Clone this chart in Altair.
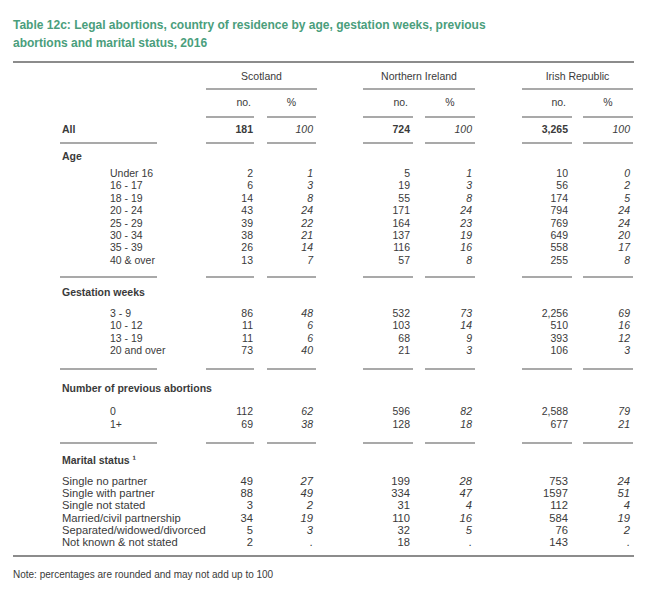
import altair as alt
import pandas as pd

# ---------------- data ----------------
title_lines = [
    "Table 12c: Legal abortions, country of residence by age, gestation weeks, previous",
    "abortions and marital status, 2016",
]
countries = ["Scotland", "Northern Ireland", "Irish Republic"]
all_no = [181, 724, 3265]
all_pct = [100, 100, 100]

age_groups = ["Under 16", "16 - 17", "18 - 19", "20 - 24", "25 - 29", "30 - 34", "35 - 39", "40 & over"]
age_no_scotland = [2, 6, 14, 43, 39, 38, 26, 13]
age_no_ni = [5, 19, 55, 171, 164, 137, 116, 57]
age_no_ir = [10, 56, 174, 794, 769, 649, 558, 255]
age_pct_scotland = [1, 3, 8, 24, 22, 21, 14, 7]
age_pct_ni = [1, 3, 8, 24, 23, 19, 16, 8]
age_pct_ir = [0, 2, 5, 24, 24, 20, 17, 8]

gest_groups = ["3 - 9", "10 - 12", "13 - 19", "20 and over"]
gest_no_scotland = [86, 11, 11, 73]
gest_no_ni = [532, 103, 68, 21]
gest_no_ir = [2256, 510, 393, 106]
gest_pct_scotland = [48, 6, 6, 40]
gest_pct_ni = [73, 14, 9, 3]
gest_pct_ir = [69, 16, 12, 3]

prev_groups = ["0", "1+"]
prev_no_scotland = [112, 69]
prev_no_ni = [596, 128]
prev_no_ir = [2588, 677]
prev_pct_scotland = [62, 38]
prev_pct_ni = [82, 18]
prev_pct_ir = [79, 21]

marital_groups = ["Single no partner", "Single with partner", "Single not stated",
                  "Married/civil partnership", "Separated/widowed/divorced", "Not known & not stated"]
mar_no_scotland = [49, 88, 3, 34, 5, 2]
mar_no_ni = [199, 334, 31, 110, 32, 18]
mar_no_ir = [753, 1597, 112, 584, 76, 143]
mar_pct_scotland = [27, 49, 2, 19, 3, None]
mar_pct_ni = [28, 47, 4, 16, 5, None]
mar_pct_ir = [24, 51, 4, 19, 2, None]

note_text = "Note: percentages are rounded and may not add up to 100"

# ---------------- layout (page pixel space) ----------------
FONT = "Liberation Sans"
TXT = "#3a3a3a"
RULE = "#8c8c8c"
GREEN = "#4a9e7c"

col_right_no = [253, 410, 568]
col_right_pct = [313, 472, 630]
grp_left = [206, 363, 522]
grp_right = [317, 475, 633]
no_rule = [(206, 254), (363, 413), (522, 572)]
pct_rule = [(267, 316), (425, 475), (583, 633)]
label_rule = (60, 157)
LBL_X = 62
SUB_X = 110

texts = []   # x, y, text, align, weight, style, size, color
rules = []   # x, x2, y, w


def fmt(v, comma=True):
    if v is None:
        return "."
    return f"{v:,}" if comma else str(v)


def add_text(x, y, t, align="left", weight="normal", style="normal", size=10.5, color=TXT):
    texts.append(dict(x=x, y=y, text=t, align=align, weight=weight, style=style, size=size, color=color))


def add_section_rule(y):
    rules.append(dict(x=label_rule[0], x2=label_rule[1], y=y, w=1.5))
    for a, b in no_rule + pct_rule:
        rules.append(dict(x=a, x2=b, y=y, w=1.5))


# title
add_text(13, 25, title_lines[0], weight="bold", size=12, color=GREEN)
add_text(13, 43, title_lines[1], weight="bold", size=12, color=GREEN)
rules.append(dict(x=13, x2=634, y=62, w=2))

# column headers
for i, c in enumerate(countries):
    add_text((grp_left[i] + grp_right[i]) / 2, 77, c, align="center")
    rules.append(dict(x=grp_left[i], x2=grp_right[i], y=89, w=1.5))
    add_text(col_right_no[i] - 2, 103, "no.", align="right")
    add_text((pct_rule[i][0] + pct_rule[i][1]) / 2, 103, "%", align="center")
    rules.append(dict(x=no_rule[i][0], x2=no_rule[i][1], y=117, w=1.5))
    rules.append(dict(x=pct_rule[i][0], x2=pct_rule[i][1], y=117, w=1.5))

# All row
add_text(LBL_X, 130, "All", weight="bold")
for i in range(3):
    add_text(col_right_no[i], 130, fmt(all_no[i]), align="right", weight="bold")
    add_text(col_right_pct[i], 130, fmt(all_pct[i]), align="right", style="italic")
add_section_rule(143)

sections = [
    ("Age", 157, 174, 12.4, age_groups,
     [age_no_scotland, age_no_ni, age_no_ir], [age_pct_scotland, age_pct_ni, age_pct_ir], 277, SUB_X, 10.5, True),
    ("Gestation weeks", 293, 314, 12.4, gest_groups,
     [gest_no_scotland, gest_no_ni, gest_no_ir], [gest_pct_scotland, gest_pct_ni, gest_pct_ir], 369, SUB_X, 10.5, True),
    ("Number of previous abortions", 389, 412, 13, prev_groups,
     [prev_no_scotland, prev_no_ni, prev_no_ir], [prev_pct_scotland, prev_pct_ni, prev_pct_ir], 443, SUB_X, 10.5, True),
    ("Marital status \u00b9", 461, 482, 12.2, marital_groups,
     [mar_no_scotland, mar_no_ni, mar_no_ir], [mar_pct_scotland, mar_pct_ni, mar_pct_ir], None, LBL_X, 11.2, False),
]

for (head, hy, ry, step, labels, nos, pcts, rule_y, lx, fs, comma) in sections:
    add_text(LBL_X, hy, head, weight="bold")
    for r, lab in enumerate(labels):
        y = ry + r * step
        add_text(lx, y, lab, size=fs)
        for i in range(3):
            add_text(col_right_no[i], y, fmt(nos[i][r], comma), align="right", size=fs)
            add_text(col_right_pct[i], y, fmt(pcts[i][r]), align="right", style="italic", size=fs)
    if rule_y is not None:
        add_section_rule(rule_y)

rules.append(dict(x=13, x2=634, y=556, w=2))
add_text(13, 575, note_text, size=10)

tdf = pd.DataFrame(texts)
rdf = pd.DataFrame(rules)

W, H = 634, 573
xs = alt.Scale(domain=[8, 8 + W])
ys = alt.Scale(domain=[8, 8 + H], reverse=True)

layers = []
for (align, weight, style), g in tdf.groupby(["align", "weight", "style"]):
    layers.append(
        alt.Chart(g).mark_text(align=align, baseline="middle", font=FONT,
                               fontWeight=weight, fontStyle=style).encode(
            x=alt.X("x:Q", scale=xs, axis=None),
            y=alt.Y("y:Q", scale=ys, axis=None),
            text="text:N",
            size=alt.Size("size:Q", scale=None, legend=None),
            color=alt.Color("color:N", scale=None, legend=None),
        )
    )

for w, g in rdf.groupby("w"):
    layers.append(
        alt.Chart(g).mark_rule(color=RULE, strokeWidth=float(w)).encode(
            x=alt.X("x:Q", scale=xs, axis=None),
            x2="x2:Q",
            y=alt.Y("y:Q", scale=ys, axis=None),
        )
    )

chart = alt.layer(*layers).properties(
    width=W, height=H, padding=0, autosize=alt.AutoSizeParams(type="none"),
    background="white",
).configure_view(stroke=None)

chart.save("out.html", embed_options={"renderer": "svg", "actions": False})
